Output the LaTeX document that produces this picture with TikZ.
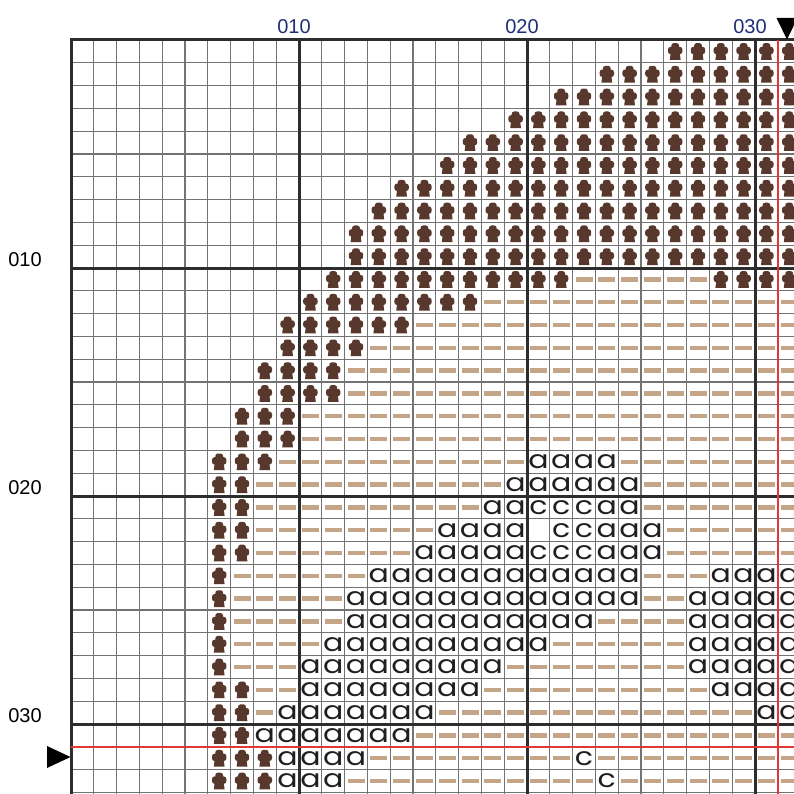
\documentclass[tikz,border=0pt]{standalone}
\usepackage{fontspec}
\setmainfont{Liberation Sans}
\newfontfamily\symfont{Poppins}[FakeStretch=1.2]
\definecolor{figbrown}{RGB}{88,56,44}
\definecolor{dashtan}{RGB}{196,165,136}
\definecolor{labelblue}{RGB}{30,45,120}
\definecolor{thingrid}{RGB}{115,115,115}
\definecolor{thickgrid}{RGB}{45,45,45}
\definecolor{centerred}{RGB}{225,55,55}
\tikzset{
  figsym/.pic={
    \fill[figbrown,rounded corners=2.5pt] (-3.9,-8.3) rectangle (3.9,-1);
    \fill[figbrown,rounded corners=2.6pt] (-7.2,-4.6) rectangle (7.2,2.8);
    \fill[figbrown] (-4.6,2) -- (4.6,2) -- (5.4,8.4) -- (-5.4,8.4) -- cycle;
  },
  dashsym/.pic={\fill[dashtan] (-8.5,-2.2) rectangle (8.5,2.2);},
  lettersym/.style={font=\symfont\fontsize{25}{25}\selectfont, inner sep=0pt, text=black!88},
  axislabel/.style={font=\fontsize{20}{20}\selectfont, inner sep=0pt},
  thinline/.style={draw=thingrid, line width=1.3pt},
  thickline/.style={draw=thickgrid, line width=3pt},
  redline/.style={draw=centerred, line width=1.5pt},
  marker/.style={fill=black}
}
\begin{document}
\begin{tikzpicture}[x=1pt,y=-1pt]
\useasboundingbox (0,0) rectangle (794,794);
\fill[white] (0,0) rectangle (794,794);
\begin{scope}
\clip (0,0) rectangle (794,794);
% figures
\foreach \r/\a/\b in {0/26/31, 1/23/31, 2/21/31, 3/19/31, 4/17/31, 5/16/31, 6/14/31, 7/13/31, 8/12/31, 9/12/31, 10/11/21, 10/28/31, 11/10/17, 12/9/14, 13/9/12, 14/8/11, 15/8/11, 16/7/9, 17/7/9, 18/6/8, 19/6/7, 20/6/7, 21/6/7, 22/6/7, 23/6/6, 24/6/6, 25/6/6, 26/6/6, 27/6/6, 28/6/7, 29/6/7, 30/6/7, 31/6/8, 32/6/8}
  {\foreach \c in {\a,...,\b}
    {\pic (f\r-\c) at ({71+22.8*(\c+0.5)},{40+22.8*(\r+0.5)}) {figsym};}}
% dashes
\foreach \r/\a/\b in {10/22/27, 11/18/31, 12/15/31, 13/13/31, 14/12/31, 15/12/31, 16/10/31, 17/10/31, 18/9/19, 18/24/31, 19/8/18, 19/25/31, 20/8/17, 20/25/31, 21/8/15, 21/26/31, 22/8/14, 22/26/31, 23/7/12, 23/25/27, 24/7/11, 24/25/26, 25/7/11, 25/23/26, 26/7/10, 26/21/26, 27/7/9, 27/19/26, 28/8/9, 28/18/27, 29/8/8, 29/16/29, 30/15/31, 31/13/21, 31/23/31, 32/12/22, 32/24/31}
  {\foreach \c in {\a,...,\b}
    {\pic (d\r-\c) at ({71+22.8*(\c+0.5)},{40+22.8*(\r+0.5)}) {dashsym};}}
% letter a
\foreach \r/\a/\b in {18/20/23, 19/19/24, 20/18/19, 20/23/24, 21/16/19, 21/23/25, 22/15/19, 22/23/25, 23/13/24, 23/28/31, 24/12/24, 24/27/31, 25/12/22, 25/27/31, 26/11/20, 26/27/31, 27/10/18, 27/27/31, 28/10/17, 28/28/31, 29/9/15, 29/30/31, 30/8/14, 31/9/12, 32/9/11}
  {\foreach \c in {\a,...,\b}
    {\node[lettersym] (a\r-\c) at ({71+22.8*(\c+0.5)},{40+22.8*(\r+0.5)}) {a};}}
% letter c
\foreach \r/\a/\b in {20/20/22, 21/21/22, 22/20/22, 31/22/22, 32/23/23}
  {\foreach \c in {\a,...,\b}
    {\node[lettersym] (c\r-\c) at ({71+22.8*(\c+0.5)},{40+22.8*(\r+0.5)}) {c};}}
% thin grid
\foreach \k in {0,...,32} {\path[thinline] ({71+22.8*\k},40) -- ({71+22.8*\k},794);}
\foreach \k in {0,...,33} {\path[thinline] (71,{40+22.8*\k}) -- (794,{40+22.8*\k});}
% thick grid
\foreach \k in {0,10,20,30} {\path[thickline] ({71+22.8*\k},38.5) -- ({71+22.8*\k},794);}
\foreach \k in {0,10,20,30} {\path[thickline] (69.5,{40+22.8*\k}) -- (794,{40+22.8*\k});}
% center lines
\path[redline] (777.8,40) -- (777.8,794);
\path[redline] (71,746.8) -- (794,746.8);
\end{scope}
% axis labels
\node[axislabel, text=labelblue] (top10) at (294,27) {010};
\node[axislabel, text=labelblue] (top20) at (522,27) {020};
\node[axislabel, text=labelblue] (top30) at (750,27) {030};
\node[axislabel, text=black] (left10) at (25,260) {010};
\node[axislabel, text=black] (left20) at (25,488) {020};
\node[axislabel, text=black] (left30) at (25,716) {030};
% center markers
\fill[marker] (776.5,18) -- (797.5,18) -- (787,39.5) -- cycle;
\fill[marker] (47,746) -- (47,768) -- (70.5,757) -- cycle;
\end{tikzpicture}
\end{document}
